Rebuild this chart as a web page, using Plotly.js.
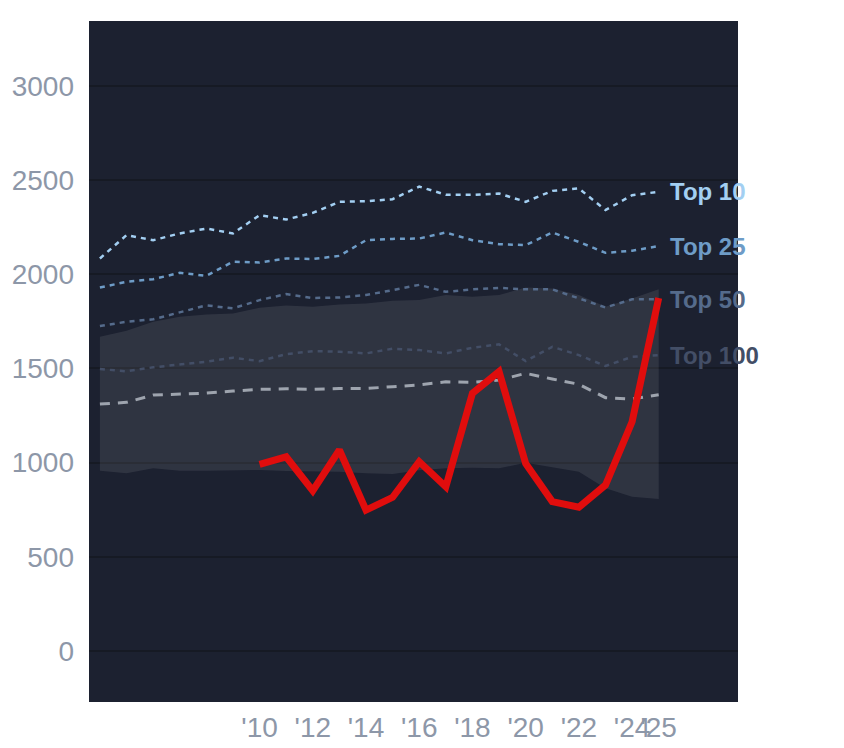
<!DOCTYPE html>
<html>
<head>
<meta charset="utf-8">
<script src="https://cdn.plot.ly/plotly-3.0.1.min.js"></script>
<style>
  html, body { margin: 0; padding: 0; background: #ffffff; }
  #chart { width: 844px; height: 748px; }
</style>
</head>
<body>
<div id="chart"></div>
<script>
// years on the x axis
const years = [2004, 2005, 2006, 2007, 2008, 2009, 2010, 2011, 2012, 2013, 2014,
               2015, 2016, 2017, 2018, 2019, 2020, 2021, 2022, 2023, 2024, 2025];

// reference lines (top-N thresholds)
const top10  = [2084, 2208, 2181, 2217, 2243, 2217, 2314, 2291, 2326, 2385, 2388,
                2399, 2466, 2422, 2422, 2429, 2385, 2443, 2456, 2341, 2420, 2438];
const top25  = [1930, 1960, 1974, 2008, 1992, 2067, 2063, 2084, 2081, 2098, 2181,
                2188, 2190, 2222, 2181, 2160, 2155, 2222, 2172, 2114, 2125, 2150];
const top50  = [1725, 1748, 1761, 1796, 1835, 1819, 1863, 1895, 1874, 1877, 1890,
                1916, 1944, 1907, 1920, 1928, 1920, 1920, 1872, 1824, 1867, 1867];
const top100 = [1497, 1485, 1506, 1523, 1536, 1557, 1539, 1576, 1592, 1589, 1580,
                1605, 1598, 1580, 1610, 1628, 1539, 1615, 1571, 1513, 1562, 1571];

// middle (dashed grey) line and shaded range
const median    = [1311, 1320, 1359, 1364, 1369, 1380, 1389, 1392, 1389, 1394, 1394,
                   1403, 1413, 1429, 1426, 1438, 1474, 1444, 1416, 1345, 1338, 1360];
const bandHigh  = [1668, 1700, 1748, 1774, 1787, 1792, 1822, 1835, 1828, 1840, 1845,
                   1859, 1863, 1890, 1881, 1890, 1930, 1925, 1890, 1828, 1872, 1920];
const bandLow   = [957, 943, 970, 957, 957, 961, 961, 955, 952, 952, 943,
                   940, 960, 970, 973, 970, 1000, 975, 952, 864, 819, 807];

// highlighted series (2010 onwards)
const mainYears = [2010, 2011, 2012, 2013, 2014, 2015, 2016, 2017, 2018,
                   2019, 2020, 2021, 2022, 2023, 2024, 2025];
const mainVals  = [991, 1031, 851, 1067, 748, 816, 1005, 872, 1368,
                   1483, 996, 793, 763, 881, 1217, 1874];

// x tick labels
const tickYears  = [2010, 2012, 2014, 2016, 2018, 2020, 2022, 2024, 2025];
const tickLabels = ["'10", "'12", "'14", "'16", "'18", "'20", "'22", "'24", "'25"];

const topLines = [
  { name: "Top 10",  vals: top10,  color: "#a3cff2" },
  { name: "Top 25",  vals: top25,  color: "#6e9cc7" },
  { name: "Top 50",  vals: top50,  color: "#556b8b" },
  { name: "Top 100", vals: top100, color: "#434e66" }
];

const traces = [];
traces.push({
  x: years, y: bandLow, type: "scatter", mode: "lines",
  line: { width: 0 }, hoverinfo: "skip", showlegend: false
});
traces.push({
  x: years, y: bandHigh, type: "scatter", mode: "lines",
  fill: "tonexty", fillcolor: "rgba(255,255,255,0.085)",
  line: { width: 0 }, hoverinfo: "skip", showlegend: false
});
traces.push({
  x: years, y: median, type: "scatter", mode: "lines",
  line: { color: "#9ea4ae", width: 3, dash: "10px,8px" }, showlegend: false
});
topLines.forEach(function (t) {
  traces.push({
    x: years, y: t.vals, type: "scatter", mode: "lines",
    line: { color: t.color, width: 2.5, dash: "5px,5px" }, showlegend: false
  });
});
traces.push({
  x: mainYears, y: mainVals, type: "scatter", mode: "lines",
  line: { color: "#e00d0d", width: 7 }, showlegend: false
});

const annotations = topLines.map(function (t) {
  return {
    x: years[years.length - 1], y: t.vals[t.vals.length - 1],
    xref: "x", yref: "y", text: "<b>" + t.name + "</b>",
    showarrow: false, xanchor: "left", yanchor: "middle", xshift: 9,
    font: { family: "Liberation Sans, Arial, sans-serif", size: 24, color: t.color }
  };
});

const layout = {
  width: 844, height: 748,
  margin: { l: 89, r: 106, t: 21, b: 46 },
  paper_bgcolor: "#ffffff",
  plot_bgcolor: "#1c2130",
  showlegend: false,
  font: { family: "Liberation Sans, Arial, sans-serif", color: "#8d97a8" },
  xaxis: {
    range: [2003.59, 2027.98],
    tickvals: tickYears, ticktext: tickLabels, tickangle: 0,
    showgrid: false, zeroline: false, showline: false, automargin: false,
    ticks: "", ticklabelstandoff: 6, tickfont: { size: 28, color: "#8d97a8" }
  },
  yaxis: {
    range: [-271, 3345],
    tickvals: [0, 500, 1000, 1500, 2000, 2500, 3000],
    showgrid: true, gridcolor: "#161a24", gridwidth: 2,
    zeroline: false, showline: false, automargin: false,
    ticks: "", ticklabelstandoff: 14,
    tickfont: { size: 28, color: "#8d97a8" }
  },
  annotations: annotations
};

Plotly.newPlot("chart", traces, layout, { displayModeBar: false, staticPlot: true });
</script>
</body>
</html>
